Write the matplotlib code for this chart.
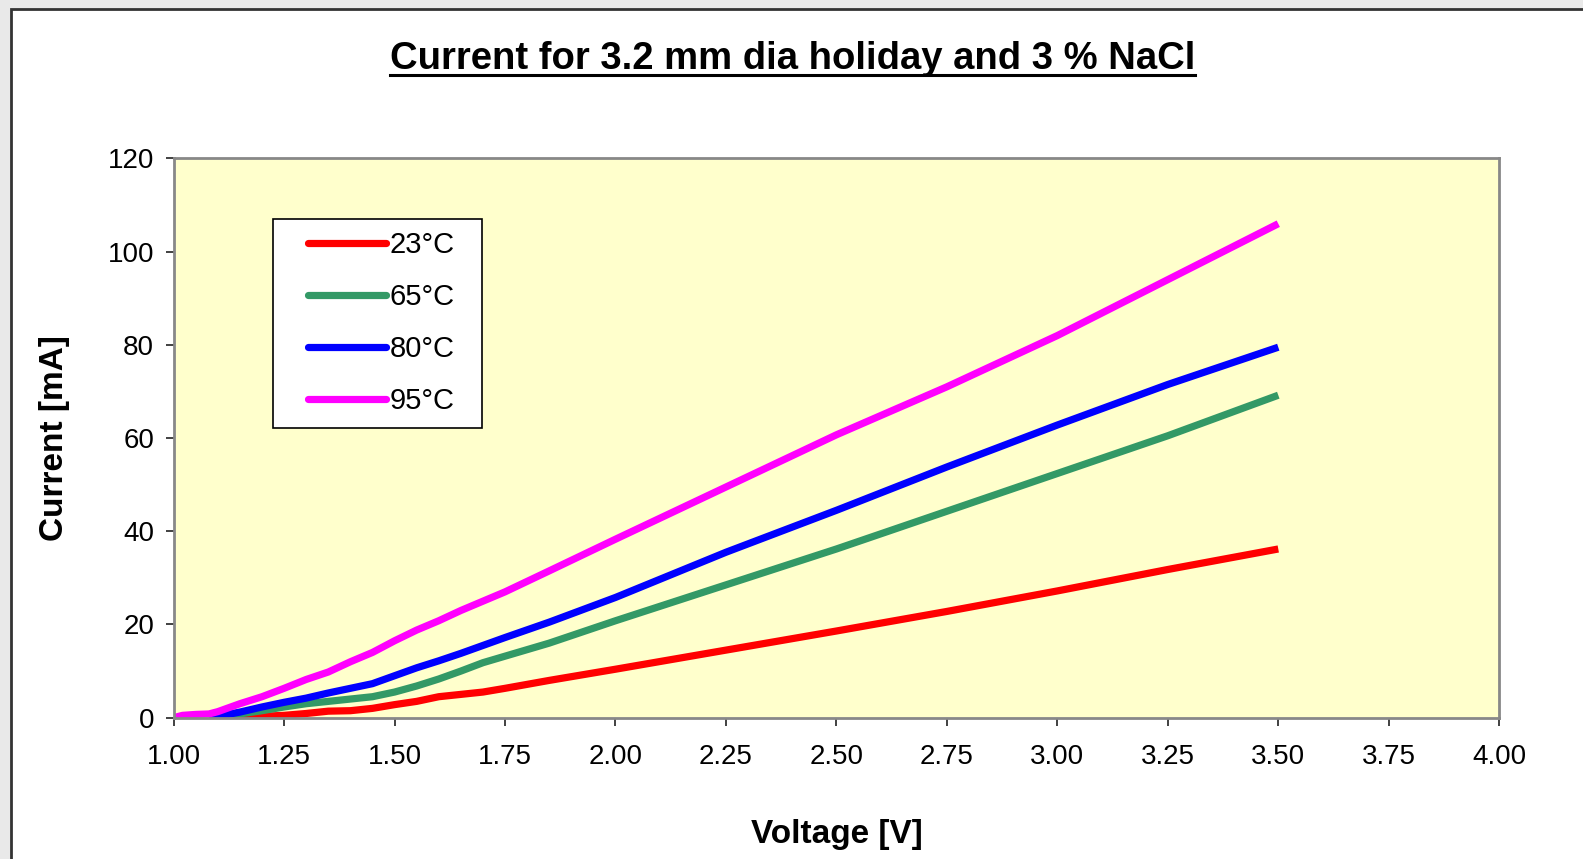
import numpy as np
import matplotlib
matplotlib.use("Agg")
import matplotlib.pyplot as plt
from matplotlib.patches import Rectangle
from matplotlib.lines import Line2D

# data
v_23 = [1.10, 1.15, 1.20, 1.25, 1.30, 1.35, 1.40, 1.45, 1.50, 1.55, 1.60, 1.65, 1.70,
        1.75, 1.85, 2.00, 2.25, 2.50, 2.75, 3.00, 3.25, 3.50]
i_23 = [0, 0.2, 0.3, 0.5, 0.9, 1.4, 1.5, 2.0, 2.8, 3.5, 4.5, 5.0, 5.5,
        6.3, 8.0, 10.4, 14.5, 18.6, 22.8, 27.2, 31.8, 36.2]

v_65 = [1.08, 1.10, 1.15, 1.20, 1.25, 1.30, 1.35, 1.40, 1.45, 1.50, 1.55, 1.60, 1.65,
        1.70, 1.75, 1.85, 2.00, 2.25, 2.50, 2.75, 3.00, 3.25, 3.50]
i_65 = [0, 0.2, 0.8, 1.5, 2.3, 3.0, 3.5, 4.0, 4.5, 5.5, 6.8, 8.3, 10.0,
        11.8, 13.2, 16.0, 20.8, 28.5, 36.2, 44.3, 52.4, 60.5, 69.2]

v_80 = [1.08, 1.10, 1.15, 1.20, 1.25, 1.30, 1.35, 1.40, 1.45, 1.50, 1.55, 1.60, 1.65,
        1.70, 1.75, 1.85, 2.00, 2.25, 2.50, 2.75, 3.00, 3.25, 3.50]
i_80 = [0, 0.3, 1.2, 2.3, 3.3, 4.2, 5.3, 6.3, 7.3, 9.0, 10.7, 12.2, 13.8,
        15.5, 17.2, 20.5, 25.8, 35.5, 44.5, 53.8, 62.8, 71.5, 79.5]

v_95 = [1.00, 1.02, 1.05, 1.08, 1.10, 1.15, 1.20, 1.25, 1.30, 1.35, 1.40, 1.45, 1.50,
        1.55, 1.60, 1.65, 1.70, 1.75, 1.85, 2.00, 2.25, 2.50, 2.75, 3.00, 3.25, 3.50]
i_95 = [0, 0.5, 0.7, 0.8, 1.3, 3.0, 4.5, 6.3, 8.2, 9.8, 12.0, 14.0, 16.5,
        18.8, 20.8, 23.0, 25.0, 27.0, 31.5, 38.3, 49.5, 60.7, 71.0, 82.0, 94.0, 106.0]

labels = ["23°C", "65°C", "80°C", "95°C"]
colors = ["#FF0000", "#339966", "#0000FF", "#FF00FF"]

plt.rcParams['font.family'] = ['Liberation Sans', 'DejaVu Sans']

W, H = 1568, 851  # layout measured on this grid

fig = plt.figure(figsize=(15.83, 8.59), dpi=100)
fig.patch.set_facecolor("#e9e9e9")

# white chart panel with dark border
panel = Rectangle((11 / W, -0.01), 1.0, 1 - 9 / H + 0.01, transform=fig.transFigure,
                  facecolor="white", edgecolor="#333333", linewidth=2, zorder=-5)
fig.add_artist(panel)

ax = fig.add_axes([172 / W, 1 - 711 / H, (1485 - 172) / W, (711 - 157) / H])
ax.set_facecolor("#FFFFCC")

series = [(v_23, i_23), (v_65, i_65), (v_80, i_80), (v_95, i_95)]
for (v, i), lab, c in zip(series, labels, colors):
    ax.plot(v, i, color=c, lw=5.2, label=lab, solid_capstyle="butt")

ax.set_xlim(1.0, 4.0)
ax.set_ylim(0, 120)
ax.set_xticks(np.arange(1.0, 4.01, 0.25))
ax.set_xticklabels(["%.2f" % t for t in np.arange(1.0, 4.01, 0.25)])
ax.set_yticks(np.arange(0, 121, 20))
ax.tick_params(axis="both", labelsize=20, direction="out", length=6, width=1.3,
               color="#333333")
ax.tick_params(axis="x", pad=13)
ax.tick_params(axis="y", pad=8)
for s in ax.spines.values():
    s.set_color("#888888")
    s.set_linewidth(2)

ax.set_xlabel("Voltage [V]", fontsize=24, fontweight="bold", labelpad=35)
ax.set_ylabel("Current [mA]", fontsize=24, fontweight="bold", labelpad=27)

# legend box
box = Rectangle(((270 - 172) / 1313, (711 - 424) / 554), (477 - 270) / 1313, (424 - 217) / 554,
                transform=ax.transAxes, facecolor="white", edgecolor="black", lw=1.2, zorder=5)
ax.add_patch(box)
handles = [Line2D([0], [0], color=c, lw=5.2, solid_capstyle="round") for c in colors]
leg = ax.legend(handles, labels, loc="center", bbox_to_anchor=((378 - 172) / 1313, (711 - 320) / 554),
                frameon=False, fontsize=21, handlelength=2.65, handletextpad=0.15,
                labelspacing=0.82, borderpad=0)
leg.set_zorder(6)

title = fig.text(785 / W, 1 - 58 / H, "Current for 3.2 mm dia holiday and 3 % NaCl",
                 ha="center", va="center", fontsize=27.5, fontweight="bold")

fig.canvas.draw()
bb = title.get_window_extent()
uy = bb.y0 + 2
fig.add_artist(Line2D([bb.x0, bb.x1], [uy, uy], transform=None, color="black", lw=2.2))

fig.savefig("out.png", dpi=100, facecolor=fig.get_facecolor())
